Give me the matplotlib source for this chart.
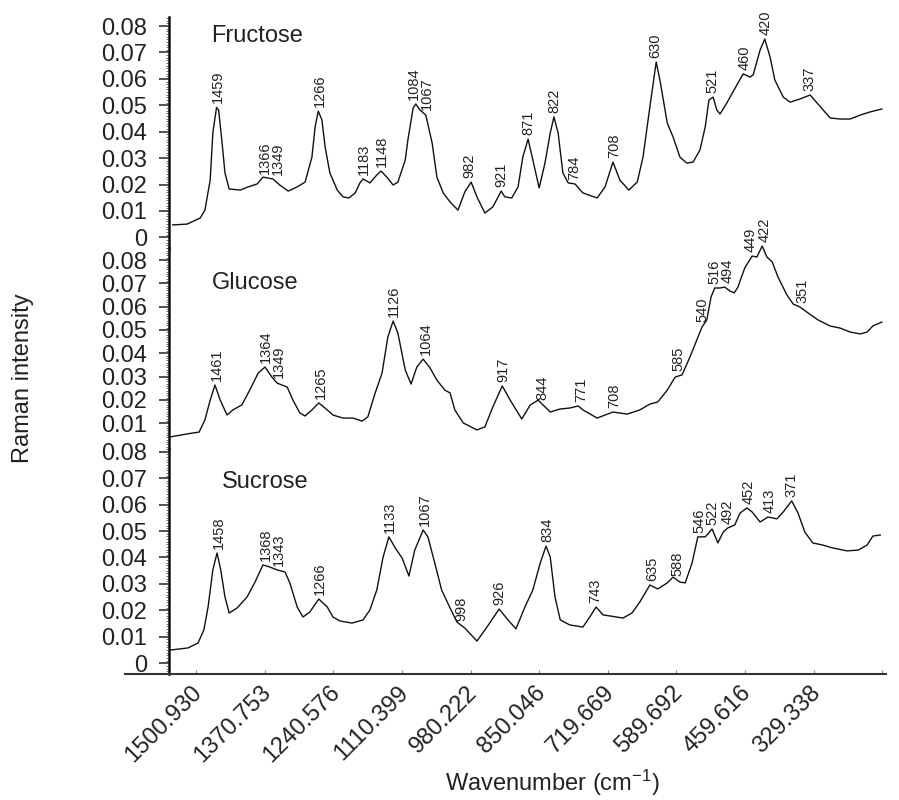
import numpy as np
import matplotlib
matplotlib.use("Agg")
import matplotlib.pyplot as plt
import matplotlib.transforms as mtransforms
from matplotlib.ticker import MultipleLocator, FixedLocator

plt.rcParams['font.family'] = ['Liberation Sans', 'DejaVu Sans']
plt.rcParams['mathtext.fontset'] = 'custom'
plt.rcParams['mathtext.rm'] = 'Liberation Sans'
plt.rcParams['mathtext.default'] = 'rm'

# ---------------- data (wavenumber cm-1, Raman intensity) ----------------
fru_wn = [1545, 1518, 1493, 1484, 1474, 1469, 1462, 1458, 1452, 1446, 1438, 1417, 1402, 1385,
          1374, 1355, 1342, 1326, 1309, 1294, 1281, 1275, 1269, 1262, 1256, 1247, 1233, 1222,
          1211, 1199, 1190, 1184, 1171, 1158, 1150, 1139, 1127, 1118, 1104, 1099, 1089, 1084,
          1076, 1065, 1053, 1044, 1032, 1019, 1004, 991, 979, 968, 953, 938, 922, 915, 902,
          890, 881, 871, 862, 850, 839, 829, 822, 814, 805, 795, 782, 767, 740, 725, 710, 697,
          680, 664, 653, 640, 628, 621, 607, 596, 583, 570, 558, 545, 535, 528, 520, 513, 507,
          494, 475, 463, 450, 444, 431, 422, 412, 403, 387, 374, 355, 336, 323, 298, 279, 260,
          241, 222, 200]
fru_iv = [0.0047, 0.0050, 0.0073, 0.0103, 0.0217, 0.0395, 0.0492, 0.0482, 0.0369, 0.0244,
          0.0183, 0.0179, 0.0191, 0.0202, 0.0228, 0.0221, 0.0198, 0.0175, 0.0191, 0.0209,
          0.0304, 0.0418, 0.0478, 0.0444, 0.0342, 0.0244, 0.0179, 0.0153, 0.0149, 0.0168,
          0.0206, 0.0221, 0.0206, 0.0236, 0.0251, 0.0228, 0.0198, 0.0209, 0.0293, 0.0369,
          0.0490, 0.0505, 0.0482, 0.0463, 0.0357, 0.0228, 0.0168, 0.0134, 0.0103, 0.0172,
          0.0209, 0.0153, 0.0092, 0.0115, 0.0175, 0.0153, 0.0149, 0.0191, 0.0304, 0.0372,
          0.0293, 0.0187, 0.0281, 0.0395, 0.0456, 0.0395, 0.0244, 0.0206, 0.0202, 0.0168,
          0.0149, 0.0191, 0.0285, 0.0217, 0.0179, 0.0209, 0.0304, 0.0494, 0.0664, 0.0596,
          0.0433, 0.0380, 0.0304, 0.0281, 0.0285, 0.0331, 0.0418, 0.0520, 0.0531, 0.0482,
          0.0467, 0.0509, 0.0577, 0.0619, 0.0607, 0.0615, 0.0709, 0.0751, 0.0683, 0.0596,
          0.0531, 0.0512, 0.0524, 0.0539, 0.0509, 0.0452, 0.0448, 0.0448, 0.0463, 0.0475,
          0.0486]

glu_wn = [1550, 1518, 1495, 1484, 1474, 1465, 1455, 1442, 1431, 1414, 1399, 1383, 1370, 1357,
          1347, 1328, 1317, 1304, 1294, 1281, 1268, 1252, 1241, 1222, 1203, 1186, 1175, 1161,
          1148, 1137, 1127, 1118, 1104, 1093, 1082, 1070, 1057, 1044, 1029, 1019, 1010, 994,
          968, 953, 938, 920, 905, 883, 867, 852, 829, 810, 792, 776, 767, 740, 710, 683, 659,
          640, 625, 607, 592, 579, 564, 551, 541, 532, 524, 517, 507, 498, 488, 480, 473, 460,
          446, 437, 427, 418, 408, 397, 380, 368, 355, 340, 321, 298, 279, 260, 241, 228, 217,
          200]
glu_iv = [0.0041, 0.0054, 0.0062, 0.0114, 0.0199, 0.0264, 0.0199, 0.0135, 0.0157, 0.0178,
          0.0242, 0.0315, 0.0341, 0.0298, 0.0272, 0.0255, 0.0199, 0.0144, 0.0131, 0.0157,
          0.0187, 0.0157, 0.0135, 0.0122, 0.0122, 0.0109, 0.0127, 0.0230, 0.0315, 0.0470,
          0.0538, 0.0487, 0.0328, 0.0268, 0.0341, 0.0375, 0.0337, 0.0285, 0.0242, 0.0230,
          0.0157, 0.0101, 0.0071, 0.0084, 0.0169, 0.0260, 0.0199, 0.0118, 0.0178, 0.0199,
          0.0148, 0.0161, 0.0165, 0.0174, 0.0157, 0.0122, 0.0148, 0.0139, 0.0157, 0.0182,
          0.0191, 0.0242, 0.0298, 0.0307, 0.0384, 0.0457, 0.0513, 0.0543, 0.0641, 0.0680,
          0.0680, 0.0684, 0.0667, 0.0659, 0.0684, 0.0766, 0.0817, 0.0813, 0.0860, 0.0813,
          0.0792, 0.0727, 0.0650, 0.0611, 0.0598, 0.0573, 0.0543, 0.0517, 0.0508, 0.0491,
          0.0483, 0.0491, 0.0517, 0.0534]

suc_wn = [1550, 1516, 1497, 1486, 1478, 1469, 1461, 1454, 1446, 1438, 1423, 1404, 1389, 1374,
          1361, 1347, 1332, 1323, 1309, 1298, 1285, 1268, 1252, 1241, 1228, 1205, 1184, 1171,
          1158, 1146, 1135, 1123, 1110, 1097, 1086, 1070, 1061, 1048, 1035, 1019, 1006, 991,
          968, 949, 926, 909, 894, 877, 862, 848, 837, 829, 820, 810, 792, 767, 754, 742, 729,
          716, 691, 674, 659, 640, 625, 607, 596, 583, 573, 560, 549, 535, 522, 511, 501, 492,
          479, 469, 456, 446, 431, 416, 399, 387, 371, 359, 346, 331, 312, 293, 266, 245, 228,
          217, 203]
suc_iv = [0.0050, 0.0058, 0.0077, 0.0126, 0.0213, 0.0353, 0.0417, 0.0353, 0.0251, 0.0190,
          0.0209, 0.0251, 0.0307, 0.0372, 0.0364, 0.0353, 0.0345, 0.0304, 0.0213, 0.0175,
          0.0194, 0.0243, 0.0213, 0.0175, 0.0160, 0.0152, 0.0164, 0.0202, 0.0277, 0.0402,
          0.0478, 0.0436, 0.0398, 0.0330, 0.0428, 0.0504, 0.0478, 0.0379, 0.0277, 0.0209,
          0.0156, 0.0133, 0.0084, 0.0137, 0.0205, 0.0164, 0.0130, 0.0213, 0.0277, 0.0379,
          0.0443, 0.0402, 0.0251, 0.0164, 0.0145, 0.0137, 0.0175, 0.0213, 0.0183, 0.0179,
          0.0171, 0.0190, 0.0232, 0.0296, 0.0281, 0.0304, 0.0326, 0.0307, 0.0304, 0.0379,
          0.0478, 0.0478, 0.0508, 0.0455, 0.0496, 0.0512, 0.0523, 0.0568, 0.0587, 0.0572,
          0.0534, 0.0553, 0.0546, 0.0572, 0.0614, 0.0568, 0.0496, 0.0455, 0.0447, 0.0436,
          0.0425, 0.0428, 0.0447, 0.0481, 0.0485]

fru_peaks = [1459, 1366, 1349, 1266, 1183, 1148, 1084, 1067, 982, 921, 871, 822, 784, 708,
             630, 521, 460, 420, 337]
glu_peaks = [1461, 1364, 1349, 1265, 1126, 1064, 917, 844, 771, 708, 585, 540, 516, 494,
             449, 422, 351]
suc_peaks = [1458, 1368, 1343, 1266, 1133, 1067, 998, 926, 834, 743, 635, 588, 546, 522,
             492, 452, 413, 371]

sample_names = ["Fructose", "Glucose", "Sucrose"]
x_tick_values = [1500.930, 1370.753, 1240.576, 1110.399, 980.222, 850.046, 719.869, 589.692,
                 459.515, 329.338, 199.161]
x_tick_labels = ["1500.930", "1370.753", "1240.576", "1110.399", "980.222", "850.046",
                 "719.669", "589.692", "459.616", "329.338", ""]
y_ticks_full = [0, 0.01, 0.02, 0.03, 0.04, 0.05, 0.06, 0.07, 0.08]
y_ticks_glu = [0.01, 0.02, 0.03, 0.04, 0.05, 0.06, 0.07, 0.08]

# ---------------- figure ----------------
W, H = 899, 800
fig = plt.figure(figsize=(W / 100, H / 100), dpi=100)


def px_axes(top, bottom, left=125, right=886):
    return fig.add_axes([left / W, 1 - bottom / H, (right - left) / W, (bottom - top) / H])


XLIM = (1635.6, 192.1)
SPINE_X = 1551.2

ax_f = px_axes(16.7, 248)
ax_g = px_axes(248, 449)
ax_s = px_axes(449, 674)

panels = [
    (ax_f, fru_wn, fru_iv, fru_peaks, (-0.00405, 0.08356), y_ticks_full),
    (ax_g, glu_wn, glu_iv, glu_peaks, (-0.00107, 0.08516), y_ticks_glu),
    (ax_s, suc_wn, suc_iv, suc_peaks, (-0.00405, 0.08102), y_ticks_full),
]

label_font = ['Liberation Sans Narrow', 'Liberation Sans']
MIN_GAP = 13.0  # px between neighbouring peak labels

for ax, wn, iv, peaks, ylim, yt in panels:
    wn = np.asarray(wn, float)
    iv = np.asarray(iv, float)
    ax.set_xlim(*XLIM)
    ax.set_ylim(*ylim)
    ax.patch.set_alpha(0)
    ax.plot(wn, iv, color='#111111', lw=1.0, clip_on=False)
    for sp in ('top', 'right', 'bottom'):
        ax.spines[sp].set_visible(False)
    ax.spines['left'].set_position(('data', SPINE_X))
    ax.spines['left'].set_linewidth(1.8)
    ax.spines['left'].set_color('#111111')
    ax.yaxis.set_major_locator(FixedLocator(yt))
    ax.yaxis.set_minor_locator(MultipleLocator(0.001))
    ax.set_yticklabels([f"{v:g}" if v else "0" for v in yt])
    ax.tick_params(axis='y', which='major', direction='out', length=7, width=1.1,
                   labelsize=17, pad=9, colors='#222222')
    ax.tick_params(axis='y', which='minor', direction='out', length=2.5, width=0.6,
                   colors='#555555')
    ax.set_xticks([])

    # peak labels, nudged apart when two sit too close together
    order = np.argsort(wn)
    items = []
    for p in peaks:
        yv = np.interp(p, wn[order], iv[order])
        near = np.abs(wn - p) <= 6
        if near.any():
            yv = max(yv, iv[near].max())
        xpix = ax.transData.transform((p, yv))[0]
        items.append([xpix, p, yv, 0.0])
    items.sort(key=lambda t: t[0])
    for i in range(1, len(items)):
        gap = (items[i][0] + items[i][3]) - (items[i - 1][0] + items[i - 1][3])
        if gap < MIN_GAP:
            d = (MIN_GAP - gap) / 2
            items[i - 1][3] -= d
            items[i][3] += d
    for xpix, p, yv, dx in items:
        ax.annotate(str(p), xy=(p, yv), xytext=(dx * 0.72, 3), textcoords='offset points',
                    rotation=90, ha='center', va='bottom', fontsize=10.5,
                    family=label_font, color='#222222', annotation_clip=False)

# bottom x-axis on sucrose panel
ax_s.spines['bottom'].set_visible(True)
ax_s.spines['bottom'].set_color('#333333')
ax_s.spines['bottom'].set_linewidth(1.5)
ax_s.set_xticks(x_tick_values)
ax_s.set_xticklabels(x_tick_labels)
ax_s.tick_params(axis='x', direction='in', length=3, width=0.8, colors='#888888',
                 labelsize=17, labelcolor='#222222', pad=11)
offset = mtransforms.ScaledTranslation(3 / 100, 0, fig.dpi_scale_trans)
for lab in ax_s.get_xticklabels():
    lab.set_rotation(45)
    lab.set_ha('right')
    lab.set_va('center')
    lab.set_rotation_mode('anchor')
    lab.set_transform(lab.get_transform() + offset)

# panel names
name_pos = [(257, 36), (255, 283), (265, 482)]
for name, (px, py) in zip(sample_names, name_pos):
    fig.text(px / W, 1 - py / H, name, fontsize=17, ha='center', va='center', color='#222222')

fig.text(23 / W, 1 - 378 / H, "Raman intensity", rotation=90, fontsize=17,
         ha='center', va='center', color='#222222')
fig.text(552 / W, 1 - 783 / H, "Wavenumber (cm$^{-1}$)", fontsize=17,
         ha='center', va='center', color='#222222')

fig.savefig("out.png", dpi=100)
